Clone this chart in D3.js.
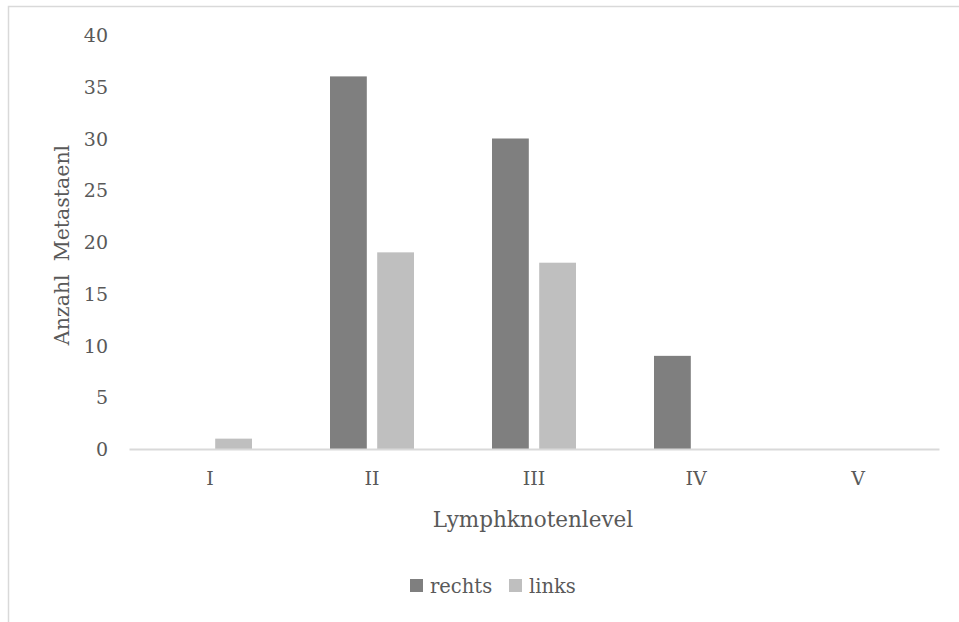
<!DOCTYPE html>
<html>
<head>
<meta charset="utf-8">
<script src="https://cdn.jsdelivr.net/npm/d3@7"></script>
<style>
    body { margin: 0; background: #fff; }
    text { font-family: 'DejaVu Serif', 'Liberation Serif', serif; fill: #595959; }
</style>
</head>
<body>
<svg id="chart"></svg>
<script>
const levels = ['I', 'II', 'III', 'IV', 'V'];
const seriesNames = ['rechts', 'links'];
const rechts = [0, 36, 30, 9, 0];
const links = [1, 19, 18, 0, 0];
const yTicks = [0, 5, 10, 15, 20, 25, 30, 35, 40];
const colors = ['#7f7f7f', '#bfbfbf'];

const width = 959, height = 622;
const plot = {left: 129, right: 939, top: 35, bottom: 449};

const svg = d3.select('#chart')
    .attr('width', width)
    .attr('height', height);

// outer frame (only left and top edges visible)
svg.append('rect')
    .attr('x', 8.5).attr('y', 6.5)
    .attr('width', 960).attr('height', 630)
    .attr('fill', 'none')
    .attr('stroke', '#d9d9d9')
    .attr('stroke-width', 1.5);

const xScale = d3.scaleBand().domain(levels).range([plot.left, plot.right]);
const inner = d3.scaleBand().domain(seriesNames)
    .range([39, xScale.bandwidth() - 39]).paddingInner(0.22);
const yScale = d3.scaleLinear().domain([0, 40]).range([plot.bottom, plot.top]);

const rows = levels.map((l, i) => ({level: l, values: [rechts[i], links[i]]}));

const groups = svg.selectAll('g.group')
    .data(rows)
    .enter()
    .append('g')
    .attr('class', 'group')
    .attr('transform', d => `translate(${xScale(d.level)}, 0)`);

groups.selectAll('rect')
    .data(d => d.values.map((v, i) => ({name: seriesNames[i], value: v})))
    .enter()
    .append('rect')
    .attr('x', d => inner(d.name))
    .attr('width', inner.bandwidth())
    .attr('y', d => yScale(d.value))
    .attr('height', d => plot.bottom - yScale(d.value))
    .style('fill', (d, i) => colors[i]);

const yAxis = d3.axisLeft(yScale).tickValues(yTicks).tickSize(0).tickPadding(0);
svg.append('g')
    .attr('transform', `translate(108, 0)`)
    .call(yAxis)
    .call(g => g.select('.domain').remove())
    .selectAll('text')
    .attr('font-size', 19)
    .attr('dy', '0.35em');

const xAxis = d3.axisBottom(xScale).tickSize(0).tickPadding(0);
svg.append('g')
    .attr('transform', `translate(0, ${plot.bottom})`)
    .call(xAxis)
    .call(g => g.select('.domain').attr('stroke', '#d9d9d9').attr('stroke-width', 2))
    .selectAll('text')
    .attr('font-size', 19)
    .attr('y', 29)
    .attr('dy', '0.35em');

svg.append('text')
    .attr('x', 533)
    .attr('y', 527)
    .attr('text-anchor', 'middle')
    .attr('font-size', 21.5)
    .text('Lymphknotenlevel');

svg.append('text')
    .attr('transform', 'translate(69, 245) rotate(-90)')
    .attr('text-anchor', 'middle')
    .attr('font-size', 20.5)
    .style('white-space', 'pre')
    .text('Anzahl  Metastaenl');

// legend
const legend = svg.append('g').attr('transform', 'translate(410, 586)');
const legendX = [0, 99];
seriesNames.forEach((name, i) => {
    const item = legend.append('g').attr('transform', `translate(${legendX[i]}, 0)`);
    item.append('rect')
        .attr('x', 0).attr('y', -7)
        .attr('width', 13).attr('height', 13)
        .style('fill', colors[i]);
    item.append('text')
        .attr('x', 20)
        .attr('dy', '0.35em')
        .attr('font-size', 19.5)
        .text(name);
});
</script>
</body>
</html>
